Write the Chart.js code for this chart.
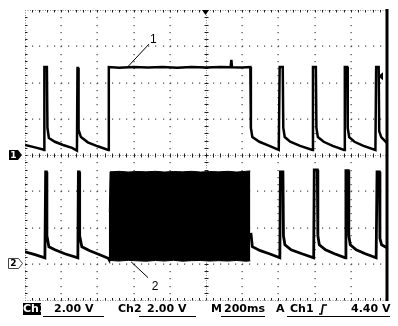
<!DOCTYPE html>
<html>
<head>
<meta charset="utf-8">
<script src="https://cdn.jsdelivr.net/npm/chart.js@4.4.0/dist/chart.umd.min.js"></script>
<style>
  body { margin: 0; background: #fff; }
  #wrap { position: relative; width: 398px; height: 326px; }
  #scope { position: absolute; left: 0; top: 0; }
  .st { position: absolute; top: 303px; font: bold 11px "DejaVu Sans", sans-serif; line-height: 12px; color: #000; white-space: pre; }
  .ul { position: absolute; top: 316px; height: 1px; background: #000; }
  #ch1box { left: 23px; width: 18px; height: 12px; background: #000; color: #fff; text-align: center; }
</style>
</head>
<body>
<div id="wrap">
  <canvas id="scope" width="398" height="326"></canvas>
  <div class="st" id="ch1box">Ch1</div>
  <div class="ul" style="left:43px;width:61px"></div>
  <div class="st" style="left:54px">2.00 V</div>
  <div class="st" style="left:118px">Ch2</div>
  <div class="ul" style="left:139px;width:57px"></div>
  <div class="st" style="left:147px">2.00 V</div>
  <div class="st" style="left:211px">M</div>
  <div class="ul" style="left:221px;width:44px"></div>
  <div class="st" style="left:224px">200ms</div>
  <div class="st" style="left:276px">A</div>
  <div class="ul" style="left:287px;width:103px"></div>
  <div class="st" style="left:290px">Ch1</div>
  <svg style="position:absolute;left:318px;top:304px" width="10" height="12">
    <polyline points="1,10 3.5,10 5,1 9,1" fill="none" stroke="#000" stroke-width="1.6"/>
  </svg>
  <div class="st" style="left:351px">4.40 V</div>
</div>
<script>
// time axis: 200 ms/div, 10 divisions
const timeDivs = [0, 200, 400, 600, 800, 1000, 1200, 1400, 1600, 1800, 2000];
// Ch1 volts: 2.00 V/div, ground at centre
const ch1Divs = [-8, -6, -4, -2, 0, 2, 4, 6, 8];

const ch1Time = [0, 55, 100, 105, 107, 121, 124, 132, 165, 210, 260, 287,
  290, 293, 296, 309, 347, 402, 460,
  463, 520, 600, 680, 760, 840, 920, 1000, 1080, 1136, 1140, 1144, 1200, 1245,
  1248, 1256, 1295, 1350, 1402,
  1407, 1424, 1427, 1435, 1465, 1520, 1588,
  1591, 1607, 1610, 1618, 1650, 1700, 1763,
  1767, 1780, 1783, 1791, 1820, 1870, 1936,
  1940, 1954, 1957, 1968, 2000];
const ch1Volt = [0.55, 0.42, 0.30, 0.28, 4.85, 4.85, 1.49, 0.94, 0.73, 0.55, 0.39, 0.24,
  4.80, 4.80, 1.38, 0.99, 0.70, 0.48, 0.28,
  4.85, 4.82, 4.86, 4.83, 4.85, 4.82, 4.86, 4.83, 4.85, 4.84, 5.25, 4.84, 4.83, 4.85,
  1.49, 0.99, 0.73, 0.50, 0.28,
  4.85, 4.85, 1.49, 0.99, 0.73, 0.50, 0.28,
  4.85, 4.85, 1.49, 0.99, 0.73, 0.50, 0.28,
  4.85, 4.85, 1.49, 0.99, 0.73, 0.50, 0.28,
  4.85, 4.85, 1.32, 0.99, 0.66];

const ch2Time = [0, 55, 110, 114, 118, 121, 132, 165, 220, 292,
  295, 299, 302, 314, 358, 413, 460, 463, 800,
  1248, 1256, 1300, 1350, 1408,
  1411, 1425, 1428, 1436, 1470, 1530, 1595,
  1598, 1615, 1618, 1626, 1660, 1710, 1770,
  1773, 1786, 1789, 1797, 1830, 1880, 1940,
  1945, 1958, 1961, 1970, 2000];
const ch2Volt = [0.66, 0.50, 0.33, 5.07, 5.07, 1.54, 0.94, 0.77, 0.55, 0.33,
  5.07, 5.07, 1.54, 0.94, 0.72, 0.50, 0.30, 0.25, null,
  1.70, 0.94, 0.72, 0.55, 0.33,
  5.07, 5.07, 1.54, 1.05, 0.77, 0.55, 0.33,
  5.18, 5.18, 1.54, 1.05, 0.77, 0.55, 0.33,
  5.14, 5.14, 1.54, 1.05, 0.77, 0.55, 0.33,
  5.07, 5.07, 1.40, 1.05, 0.88];

// Ch2 burst envelope (too dense to resolve single cycles)
const burstTime = [463, 466, 470, 520, 570, 620, 670, 720, 770, 820, 870, 920, 970, 1020, 1070, 1120, 1170, 1220, 1245];
const burstTop = [2.90, 2.90, 5.07, 5.10, 5.06, 5.09, 5.07, 5.10, 5.06, 5.09, 5.07, 5.10, 5.06, 5.09, 5.07, 5.10, 5.06, 5.10, 5.12];
const burstBottom = [0.26, 0.20, 0.18, 0.15, 0.19, 0.16, 0.14, 0.18, 0.15, 0.19, 0.14, 0.17, 0.18, 0.15, 0.17, 0.15, 0.18, 0.14, 0.16];

const triggerTime = 1000;
const triggerLevel = 4.40;

const pts = (t, v) => t.map((x, i) => ({ x: x, y: v[i] }));

const graticule = {
  id: 'graticule',
  beforeDatasetsDraw(chart) {
    const { ctx, chartArea: a, scales: { x, y } } = chart;
    const xs = timeDivs.map(v => x.getPixelForValue(v));
    const ys = ch1Divs.map(v => y.getPixelForValue(v));
    const mx = (xs[1] - xs[0]) / 5;
    const my = (ys[0] - ys[1]) / 5;
    ctx.save();
    ctx.fillStyle = '#444';
    xs.forEach((px, i) => {
      if (i === 0 || i === 5 || i === 10) return;
      for (let k = 0; k <= 40; k++) ctx.fillRect(Math.round(px) - 0.5, Math.round(a.top + k * my), 1.2, 1.2);
    });
    ys.forEach((py, j) => {
      if (j === 0 || j === 4 || j === 8) return;
      for (let k = 0; k <= 50; k++) ctx.fillRect(Math.round(a.left + k * mx), Math.round(py) - 0.5, 1.2, 1.2);
    });
    // borders and centre lines: fine dotted with minor ticks
    ctx.strokeStyle = '#888';
    ctx.lineWidth = 1;
    ctx.setLineDash([1, 1.5]);
    const hLines = [ys[8], ys[4], ys[0]];
    const vLines = [xs[0], xs[5]];
    ctx.beginPath();
    hLines.forEach(py => { ctx.moveTo(a.left, Math.round(py) + 0.5); ctx.lineTo(a.right, Math.round(py) + 0.5); });
    vLines.forEach(px => { ctx.moveTo(Math.round(px) + 0.5, a.top); ctx.lineTo(Math.round(px) + 0.5, a.bottom); });
    ctx.stroke();
    ctx.setLineDash([]);
    ctx.strokeStyle = '#222';
    ctx.beginPath();
    for (let k = 1; k < 50; k++) {
      const px = Math.round(a.left + k * mx) + 0.5;
      ctx.moveTo(px, Math.round(ys[4]) - 1.5); ctx.lineTo(px, Math.round(ys[4]) + 2.5);
      ctx.moveTo(px, Math.round(ys[8])); ctx.lineTo(px, Math.round(ys[8]) + 2.5);
      ctx.moveTo(px, Math.round(ys[0]) - 2); ctx.lineTo(px, Math.round(ys[0]) + 0.5);
    }
    for (let k = 1; k < 40; k++) {
      const py = Math.round(a.top + k * my) + 0.5;
      ctx.moveTo(Math.round(xs[5]) - 1.5, py); ctx.lineTo(Math.round(xs[5]) + 2.5, py);
      ctx.moveTo(Math.round(xs[0]), py); ctx.lineTo(Math.round(xs[0]) + 2.5, py);
    }
    ctx.stroke();
    // right edge
    ctx.strokeStyle = '#000';
    ctx.lineWidth = 3;
    ctx.beginPath();
    ctx.moveTo(a.right, a.top - 1);
    ctx.lineTo(a.right, a.bottom + 1);
    ctx.stroke();
    ctx.restore();
  },
  afterDatasetsDraw(chart) {
    const { ctx, scales: { x, y, y2 } } = chart;
    ctx.save();
    // channel 1 ground marker
    const g1 = Math.round(y.getPixelForValue(0));
    ctx.fillStyle = '#000';
    ctx.beginPath();
    ctx.moveTo(9, g1 - 5); ctx.lineTo(18, g1 - 5); ctx.lineTo(22, g1); ctx.lineTo(18, g1 + 5); ctx.lineTo(9, g1 + 5);
    ctx.closePath(); ctx.fill();
    ctx.fillStyle = '#fff';
    ctx.font = 'bold 9px "DejaVu Sans"';
    ctx.textAlign = 'center'; ctx.textBaseline = 'middle';
    ctx.fillText('1', 13.5, g1 + 0.5);
    // channel 2 ground marker
    const g2 = Math.round(y2.getPixelForValue(0));
    ctx.strokeStyle = '#444'; ctx.lineWidth = 1;
    ctx.beginPath();
    ctx.moveTo(8.5, g2 - 5.5); ctx.lineTo(18.5, g2 - 5.5); ctx.lineTo(22.5, g2 - 0.5); ctx.lineTo(18.5, g2 + 4.5); ctx.lineTo(8.5, g2 + 4.5);
    ctx.closePath(); ctx.stroke();
    ctx.fillStyle = '#000';
    ctx.fillText('2', 13.5, g2);
    // trigger position
    const tx = x.getPixelForValue(triggerTime);
    ctx.beginPath();
    ctx.moveTo(tx - 4, 10); ctx.lineTo(tx + 3, 10); ctx.lineTo(tx - 0.5, 15);
    ctx.closePath(); ctx.fill();
    // trigger level
    const ty = y.getPixelForValue(triggerLevel);
    ctx.beginPath();
    ctx.moveTo(378, ty + 1); ctx.lineTo(383, ty - 3); ctx.lineTo(383, ty + 5);
    ctx.closePath(); ctx.fill();
    // callouts
    ctx.lineWidth = 1;
    ctx.strokeStyle = '#000';
    ctx.beginPath();
    ctx.moveTo(x.getPixelForValue(569), y.getPixelForValue(4.88));
    ctx.lineTo(x.getPixelForValue(685), y.getPixelForValue(6.12));
    ctx.moveTo(x.getPixelForValue(586), y2.getPixelForValue(0.11));
    ctx.lineTo(x.getPixelForValue(680), y2.getPixelForValue(-0.77));
    ctx.stroke();
    ctx.font = '12px "Liberation Sans"';
    ctx.textAlign = 'left'; ctx.textBaseline = 'alphabetic';
    ctx.fillText('1', x.getPixelForValue(690), y.getPixelForValue(6.18));
    ctx.fillText('2', x.getPixelForValue(700), y2.getPixelForValue(-1.43));
    ctx.restore();
  }
};

new Chart(document.getElementById('scope'), {
  type: 'line',
  data: {
    datasets: [
      { data: pts(ch1Time, ch1Volt), yAxisID: 'y', borderColor: '#000', borderWidth: 2.5, pointRadius: 0, spanGaps: false },
      { data: pts(ch2Time, ch2Volt), yAxisID: 'y2', borderColor: '#000', borderWidth: 2.8, pointRadius: 0, spanGaps: false },
      { data: pts(burstTime, burstTop), yAxisID: 'y2', borderColor: '#000', borderWidth: 1, pointRadius: 0, backgroundColor: '#000', fill: '+1' },
      { data: pts(burstTime, burstBottom), yAxisID: 'y2', borderColor: '#000', borderWidth: 1, pointRadius: 0, fill: false }
    ]
  },
  options: {
    responsive: false,
    animation: false,
    events: [],
    layout: { padding: { left: 25, right: 11, top: 10, bottom: 26 } },
    elements: { line: { tension: 0 } },
    plugins: { legend: { display: false }, tooltip: { enabled: false } },
    scales: {
      x: { type: 'linear', min: 0, max: 2000, display: false },
      y: { type: 'linear', min: -8, max: 8, display: false },
      y2: { type: 'linear', min: -2, max: 14, display: false }
    }
  },
  plugins: [graticule]
});
</script>
</body>
</html>
